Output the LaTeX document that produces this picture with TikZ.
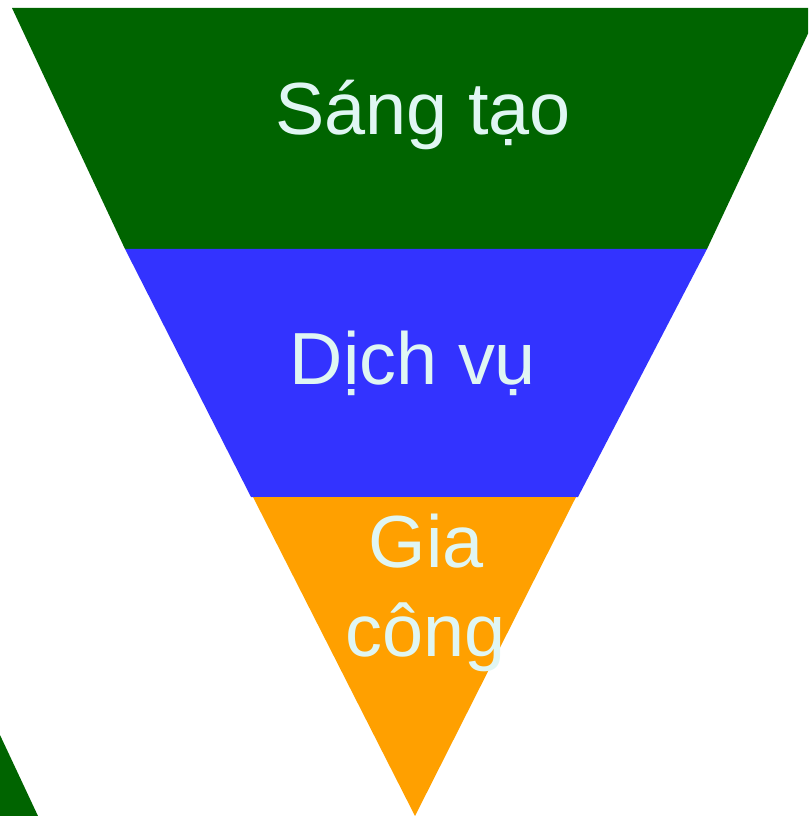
\documentclass[tikz,border=0pt]{standalone}
\usepackage{fontspec}
\setmainfont{Liberation Sans}
\usetikzlibrary{positioning}
\definecolor{topgreen}{RGB}{0,100,0}
\definecolor{midblue}{RGB}{51,51,255}
\definecolor{loworange}{RGB}{255,160,0}
\definecolor{labelcyan}{RGB}{224,246,243}
\tikzset{x=0.01cm, y=-0.01cm, % one unit is one pixel of the layout
    band/.style={draw=none},
    lbl/.style={text=labelcyan, font=\fontsize{21}{25.6}\selectfont,
    inner sep=0pt, anchor=base}}

\begin{document}
\begin{tikzpicture}
    \clip (0,0) rectangle (808,816);

    % Bands of the pyramid
    \fill[band, topgreen] (12,8) -- (820,8) -- (707,249) -- (125,249) -- cycle;
    \fill[band, midblue] (125,249) -- (707,249) -- (578,497) -- (251,497) -- cycle;
    \fill[band, loworange] (253,497) -- (576,497) -- (415,816) -- cycle;

    % Corner of the next shape
    \fill[band, topgreen] (0,735) -- (38,816) -- (0,816) -- cycle;

    % Labels
    \node[lbl] (sangtao) at (423,135) {Sáng tạo};
    \node[lbl] (dichvu) at (413,385) {Dịch vụ};
    \node[lbl] (gia) at (426,567) {Gia};
    \node[lbl] (cong) at (426,656) {công};
\end{tikzpicture}
\end{document}
